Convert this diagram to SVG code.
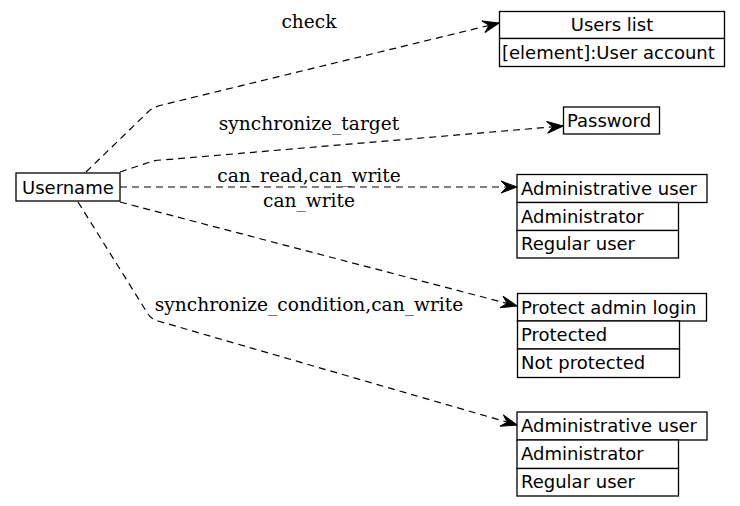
<svg xmlns="http://www.w3.org/2000/svg" width="740" height="506" viewBox="0 0 740 506">
<style>
.box{fill:#fff;stroke:#000;stroke-width:1.3}
.t{font-family:"DejaVu Sans",sans-serif;font-size:18px;fill:#000}
.lbl{font-family:"DejaVu Serif",serif;font-size:18.6px;fill:#000;text-anchor:middle}
.e{fill:none;stroke:#000;stroke-width:1.2;stroke-dasharray:7,5;marker-end:url(#vee)}
</style>
<defs>
<marker id="vee" markerUnits="userSpaceOnUse" viewBox="-17 -8 18 16" refX="0" refY="0" markerWidth="18" markerHeight="16" orient="auto">
<path d="M0,0 L-16,-6 L-10,0 L-16,6 Z" fill="#000" stroke="#000" stroke-width="1"/>
</marker>
</defs>
<rect width="740" height="506" fill="#fff"/>
<g id="edges">
<path class="e" d="M86,172 L148,112 Q153,107 162,105 L499,23"/>
<path class="e" d="M120,172 L150,162 Q155,160 162,160 L563,126"/>
<path class="e" d="M120,187 L517,187"/>
<path class="e" d="M120,202 L517,306"/>
<path class="e" d="M78,202 L148,314 Q151,319 158,321 L517,425"/>
<text class="lbl" x="309" y="28">check</text>
<text class="lbl" x="309" y="130">synchronize_target</text>
<text class="lbl" x="309" y="182">can_read,can_write</text>
<text class="lbl" x="309" y="207">can_write</text>
<text class="lbl" x="309" y="311">synchronize_condition,can_write</text>
</g>
<g id="username">
<rect class="box" x="16" y="173" width="104" height="28"/>
<text class="t" x="22" y="193.5">Username</text>
</g>
<g id="users_list">
<rect class="box" x="499.5" y="11.5" width="225" height="27"/>
<rect class="box" x="499.5" y="38.5" width="225" height="28"/>
<text class="t" x="612" y="31" text-anchor="middle">Users list</text>
<text class="t" x="502" y="58.5">[element]:User account</text>
</g>
<g id="password">
<rect class="box" x="563.5" y="107" width="96" height="27"/>
<text class="t" x="567" y="126.5">Password</text>
</g>
<g id="admin_user_1">
<rect class="box" x="517" y="174.5" width="190" height="28"/>
<rect class="box" x="517" y="202.5" width="161.5" height="28"/>
<rect class="box" x="517" y="230.5" width="161.5" height="27.5"/>
<text class="t" x="521" y="194.5">Administrative user</text>
<text class="t" x="521" y="222.5">Administrator</text>
<text class="t" x="521" y="250">Regular user</text>
</g>
<g id="protect_admin_login">
<rect class="box" x="517.5" y="293.5" width="189" height="27.5"/>
<rect class="box" x="517.5" y="321" width="162" height="28"/>
<rect class="box" x="517.5" y="349" width="162" height="28.5"/>
<text class="t" x="521" y="313.5">Protect admin login</text>
<text class="t" x="521" y="341">Protected</text>
<text class="t" x="521" y="369">Not protected</text>
</g>
<g id="admin_user_2">
<rect class="box" x="517" y="412" width="190" height="28"/>
<rect class="box" x="517" y="440" width="161.5" height="28.5"/>
<rect class="box" x="517" y="468.5" width="161.5" height="27.5"/>
<text class="t" x="521" y="432">Administrative user</text>
<text class="t" x="521" y="460">Administrator</text>
<text class="t" x="521" y="488">Regular user</text>
</g>
</svg>
